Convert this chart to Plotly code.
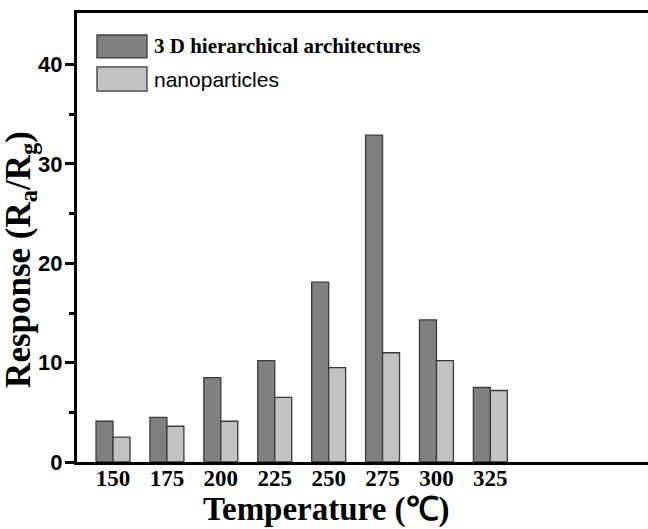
import plotly.graph_objects as go

# Operating temperature (°C) and sensor response (Ra/Rg)
temperatures = [150, 175, 200, 225, 250, 275, 300, 325]
hierarchical = [4.1, 4.5, 8.5, 10.2, 18.1, 32.9, 14.3, 7.5]
nanoparticles = [2.5, 3.6, 4.1, 6.5, 9.5, 11.0, 10.2, 7.2]

series_names = ["3 D hierarchical architectures", "nanoparticles"]
fills = ["#808080", "#c2c2c2"]
edge = "#3a3a3a"

SERIF = "Liberation Serif, Times New Roman, serif"
SANS = "Liberation Sans, Arial, sans-serif"

fig = go.Figure()
for name, vals, col in zip(series_names, [hierarchical, nanoparticles], fills):
    fig.add_trace(go.Bar(
        x=temperatures, y=vals, name=name,
        marker=dict(color=col, line=dict(color=edge, width=1.3)),
        showlegend=False,
    ))

# Hand-drawn legend block in the upper-left corner
legend_rows = [(0.951, 0.900), (0.880, 0.826)]
legend_fonts = [dict(family=SERIF, size=21, color="black", weight="bold"),
                dict(family=SANS, size=21, color="black")]
for (y1, y0), col, name, fnt in zip(legend_rows, fills, series_names, legend_fonts):
    fig.add_shape(type="rect", xref="paper", yref="paper",
                  x0=0.035, x1=0.1226, y0=y0, y1=y1,
                  fillcolor=col, line=dict(color=edge, width=1.3))
    fig.add_annotation(xref="paper", yref="paper", x=0.131, y=(y0 + y1) / 2,
                       text=name, showarrow=False, xanchor="left", yanchor="middle",
                       font=fnt)

# Axis titles
fig.add_annotation(xref="paper", yref="paper", x=(326 - 77) / 571, y=-0.105,
                   text="Temperature (℃)", showarrow=False,
                   xanchor="center", yanchor="middle",
                   font=dict(family=SERIF, size=33, color="black", weight="bold"))
fig.add_annotation(xref="paper", yref="paper", x=-0.10, y=(462 - 259) / 449,
                   text="Response (R<sub>a</sub>/R<sub>g</sub>)", showarrow=False,
                   textangle=-90, xanchor="center", yanchor="middle",
                   font=dict(family=SERIF, size=35, color="black", weight="bold"))

fig.update_layout(
    width=648, height=529,
    margin=dict(l=77, r=0, t=13, b=67),
    paper_bgcolor="white", plot_bgcolor="white",
    barmode="group", bargap=0.37, bargroupgap=0,
    xaxis=dict(
        range=[133.3, 398.1], tickmode="array", tickvals=temperatures,
        ticktext=[str(t) for t in temperatures],
        showgrid=False, zeroline=False,
        showline=True, linecolor="black", linewidth=3, mirror=True,
        ticks="", ticklabelstandoff=-7,
        tickfont=dict(family=SERIF, size=23, color="black", weight="bold"),
    ),
    yaxis=dict(
        range=[0, 45.2], tickvals=[0, 10, 20, 30, 40],
        showgrid=False, zeroline=False,
        showline=True, linecolor="black", linewidth=3, mirror=False,
        ticks="outside", ticklen=9, tickwidth=2.5, tickcolor="black",
        ticklabelstandoff=-2,
        tickfont=dict(family=SANS, size=22, color="black", weight="bold"),
        minor=dict(tickvals=[5, 15, 25, 35], ticks="outside", ticklen=5,
                   tickwidth=2.5, tickcolor="black"),
    ),
)

fig.write_html("out.html")
